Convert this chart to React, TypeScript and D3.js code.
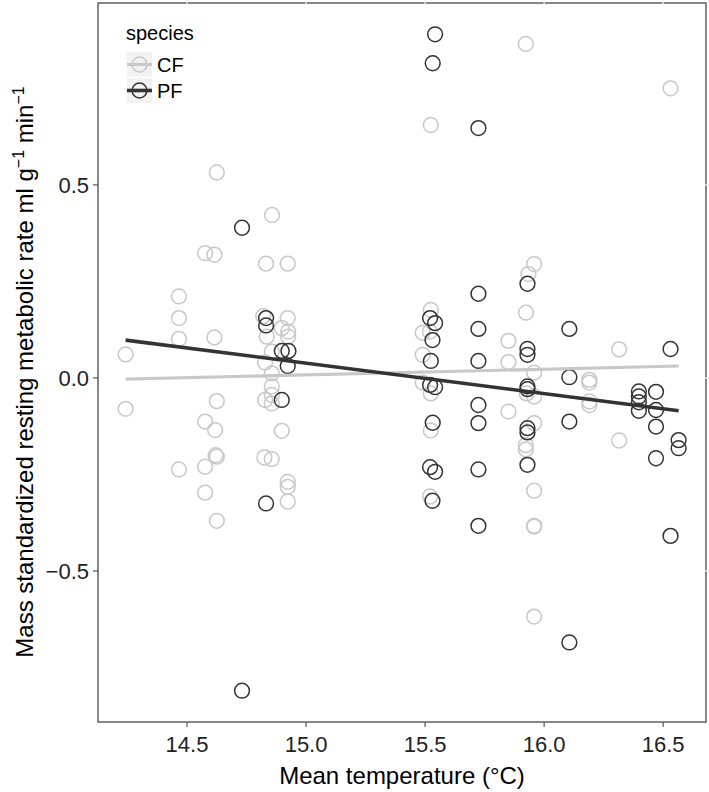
import React, { useEffect } from "react";
import * as d3 from "d3";

// Data: [mean temperature (°C), rate]
const cfPoints: [number, number][] = [
  [14.242, 0.061], [14.242, -0.08],
  [14.466, 0.211], [14.466, 0.155], [14.466, 0.101], [14.466, -0.237],
  [14.576, 0.323], [14.576, -0.113], [14.576, -0.23], [14.576, -0.297],
  [14.625, 0.532], [14.615, 0.319], [14.615, 0.105], [14.625, -0.06], [14.618, -0.135],
  [14.62, -0.2], [14.625, -0.204], [14.625, -0.37],
  [14.832, 0.296], [14.828, 0.04], [14.828, -0.057], [14.825, -0.206], [14.835, 0.107], [14.82, 0.16],
  [14.857, 0.422], [14.856, 0.068], [14.856, 0.012], [14.856, -0.022], [14.856, -0.044], [14.856, -0.066], [14.856, -0.21],
  [14.898, 0.129], [14.898, -0.137],
  [14.923, 0.296], [14.923, 0.155], [14.925, 0.12], [14.925, 0.107], [14.923, -0.269], [14.923, -0.282], [14.923, -0.32],
  [15.49, 0.117], [15.49, 0.06], [15.49, -0.012],
  [15.524, 0.655], [15.524, 0.176], [15.52, 0.12], [15.524, -0.04], [15.524, -0.136], [15.521, -0.307],
  [15.85, 0.096], [15.85, 0.041], [15.85, -0.087],
  [15.923, 0.865], [15.934, 0.269], [15.924, 0.169], [15.927, -0.04], [15.923, -0.174], [15.923, -0.185],
  [15.958, 0.295], [15.958, 0.014], [15.958, -0.048], [15.958, -0.117], [15.958, -0.292],
  [15.958, -0.383], [15.958, -0.385], [15.958, -0.618],
  [16.19, -0.005], [16.19, -0.012], [16.19, -0.061], [16.19, -0.07],
  [16.315, 0.074], [16.315, -0.162],
  [16.531, 0.75],
];

const pfPoints: [number, number][] = [
  [14.731, 0.389], [14.731, -0.81],
  [14.832, 0.155], [14.832, 0.136], [14.832, -0.325],
  [14.898, 0.07], [14.898, -0.057],
  [14.926, 0.07], [14.923, 0.031],
  [15.542, 0.89], [15.532, 0.815], [15.521, 0.155], [15.542, 0.142], [15.531, 0.098], [15.524, 0.044],
  [15.521, -0.018], [15.542, -0.024], [15.532, -0.116], [15.521, -0.231], [15.542, -0.243], [15.531, -0.318],
  [15.724, 0.647], [15.724, 0.218], [15.724, 0.127], [15.724, 0.044], [15.724, -0.07],
  [15.724, -0.117], [15.724, -0.237], [15.724, -0.383],
  [15.93, 0.244], [15.93, 0.075], [15.93, 0.06], [15.93, -0.022], [15.93, -0.029],
  [15.93, -0.13], [15.93, -0.141], [15.93, -0.225],
  [16.106, 0.127], [16.106, 0.002], [16.106, -0.113], [16.106, -0.685],
  [16.398, -0.035], [16.398, -0.048], [16.398, -0.063], [16.398, -0.085],
  [16.47, -0.036], [16.47, -0.083], [16.47, -0.126], [16.47, -0.208],
  [16.531, 0.075], [16.531, -0.409],
  [16.565, -0.161], [16.565, -0.182],
];

// Fitted regression lines (endpoints)
const cfFit: [number, number][] = [[14.242, -0.003], [16.565, 0.031]];
const pfFit: [number, number][] = [[14.242, 0.098], [16.565, -0.085]];

const xTicks = [14.5, 15.0, 15.5, 16.0, 16.5];
const yTicks = [-0.5, 0.0, 0.5];
const speciesNames = ["CF", "PF"];
const speciesColors = ["#c8c8c8", "#333333"];

const W = 709;
const H = 792;
const L = 98, R = 706, T = 3, B = 722;
const FONT = "'Liberation Sans', Arial, Helvetica, sans-serif";

export default function App() {
  useEffect(() => {
    document.body.style.margin = "0";
  }, []);

  const x = d3.scaleLinear().domain([14.126, 16.68]).range([L, R]);
  const y = d3.scaleLinear().domain([-0.891, 0.971]).range([B, T]);
  const line = d3.line<[number, number]>().x((d) => x(d[0])).y((d) => y(d[1]));
  const fmt = d3.format(".1f");
  const r = 7.4;

  const groups = [cfPoints, pfPoints];
  const fits = [cfFit, pfFit];

  return (
    <svg width={W} height={H} style={{ display: "block", background: "#fff" }} fontFamily={FONT}>
      <rect x={0} y={0} width={W} height={H} fill="#fff" />
      {/* points */}
      {groups.map((pts, gi) => (
        <g key={gi}>
          {pts.map((p, i) => (
            <circle key={i} cx={x(p[0])} cy={y(p[1])} r={r} fill="none"
              stroke={speciesColors[gi]} strokeWidth={1.5} />
          ))}
        </g>
      ))}
      {/* fit lines */}
      {fits.map((f, gi) => (
        <path key={gi} d={line(f) || ""} fill="none" stroke={speciesColors[gi]}
          strokeWidth={gi === 0 ? 3.2 : 3.6} strokeLinecap="butt" />
      ))}
      {/* panel border */}
      <rect x={L} y={T} width={R - L} height={B - T} fill="none" stroke="#555" strokeWidth={1.4} />
      {/* white tick notches on top/right */}
      {xTicks.map((t) => (
        <line key={"tt" + t} x1={x(t)} x2={x(t)} y1={T - 2} y2={T + 2} stroke="#fff" strokeWidth={1.2} />
      ))}
      {yTicks.map((t) => (
        <line key={"rt" + t} x1={R - 2} x2={R + 2} y1={y(t)} y2={y(t)} stroke="#fff" strokeWidth={1.2} />
      ))}
      {/* x axis */}
      {xTicks.map((t) => (
        <g key={"x" + t}>
          <line x1={x(t)} x2={x(t)} y1={B} y2={B + 5} stroke="#555" strokeWidth={1.2} />
          <text x={x(t)} y={B + 30} textAnchor="middle" fontSize={22} fill="#222">{fmt(t)}</text>
        </g>
      ))}
      {/* y axis */}
      {yTicks.map((t) => (
        <g key={"y" + t}>
          <line x1={L - 5} x2={L} y1={y(t)} y2={y(t)} stroke="#555" strokeWidth={1.2} />
          <text x={L - 9} y={y(t) + 8} textAnchor="end" fontSize={22} fill="#222">
            {t < 0 ? "\u2212" + fmt(-t) : fmt(t)}
          </text>
        </g>
      ))}
      {/* axis titles */}
      <text x={(L + R) / 2} y={784} textAnchor="middle" fontSize={24} fill="#000">
        Mean temperature (°C)
      </text>
      <text transform={`translate(33,372) rotate(-90)`} textAnchor="middle" fontSize={24} fill="#000">
        Mass standardized resting metabolic rate ml g
        <tspan fontSize={16} dy={-9}>{"\u22121"}</tspan>
        <tspan dy={9}> min</tspan>
        <tspan fontSize={16} dy={-9}>{"\u22121"}</tspan>
      </text>
      {/* legend */}
      <g>
        <text x={126} y={40} fontSize={20} fill="#000">species</text>
        {speciesNames.map((s, i) => {
          const ky = 52 + i * 26;
          return (
            <g key={s}>
              <rect x={127} y={ky} width={25} height={25} fill="#f2f2f2" />
              <line x1={127} x2={152} y1={ky + 12.5} y2={ky + 12.5} stroke={speciesColors[i]}
                strokeWidth={i === 0 ? 3.2 : 3.6} />
              <circle cx={139.5} cy={ky + 12.5} r={r} fill="none" stroke={speciesColors[i]} strokeWidth={1.5} />
              <text x={157} y={ky + 19.5} fontSize={20} fill="#000">{s}</text>
            </g>
          );
        })}
      </g>
    </svg>
  );
}
